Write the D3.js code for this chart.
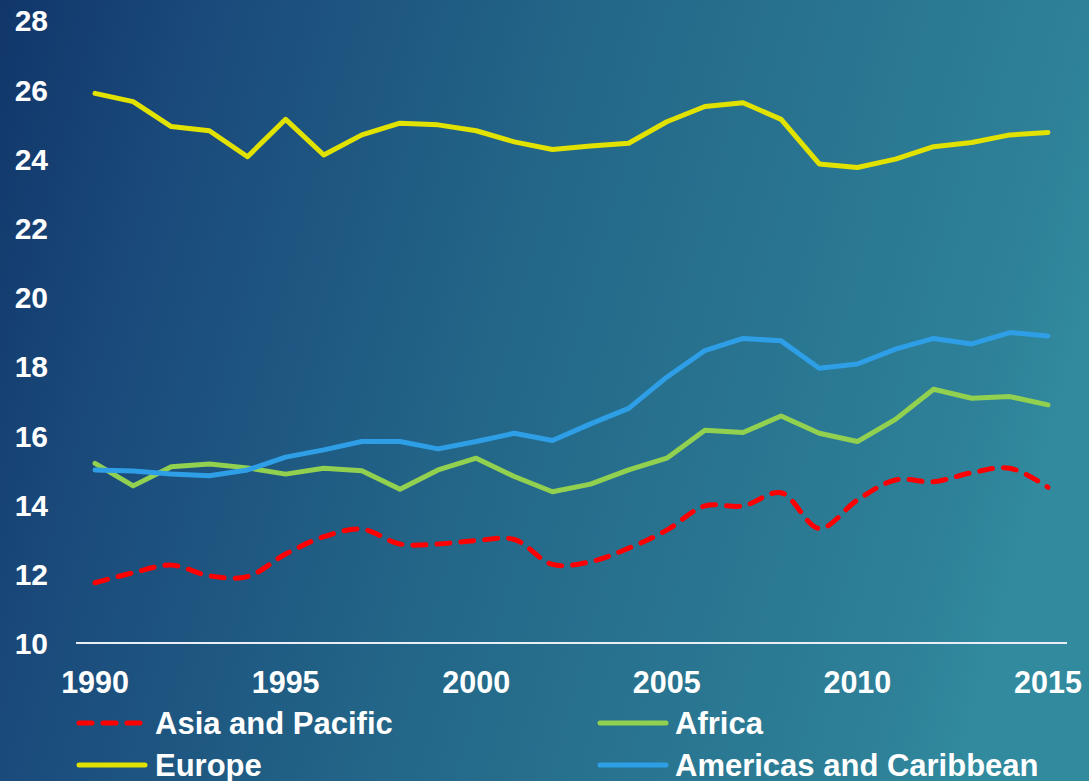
<!DOCTYPE html>
<html>
<head>
<meta charset="utf-8">
<script src="https://cdn.jsdelivr.net/npm/d3@7"></script>
<style>
  html, body { margin: 0; padding: 0; background: #1b4c7c; }
  svg { display: block; }
  text { font-family: "Liberation Sans", Arial, sans-serif; font-weight: bold; fill: #ffffff; }
</style>
</head>
<body>
<svg id="chart" width="1089" height="781"></svg>
<script>
// Years on the horizontal axis
const years = d3.range(1990, 2016).map(String);
const yearTicks = ["1990", "1995", "2000", "2005", "2010", "2015"];
const valueTicks = [10, 12, 14, 16, 18, 20, 22, 24, 26, 28];

// Series values, one per year 1990–2015
const asiaPacific = [11.74, 12.03, 12.25, 11.94, 11.92, 12.57, 13.07, 13.29, 12.86, 12.86,
                     12.96, 12.99, 12.27, 12.35, 12.74, 13.26, 13.96, 13.96, 14.34, 13.31,
                     14.13, 14.71, 14.66, 14.92, 15.05, 14.50];
const africa = [15.19, 14.54, 15.09, 15.17, 15.06, 14.88, 15.05, 14.98, 14.44, 15.00,
                15.34, 14.81, 14.37, 14.59, 15.00, 15.34, 16.15, 16.08, 16.56, 16.06,
                15.82, 16.46, 17.33, 17.07, 17.12, 16.88];
const europe = [25.88, 25.64, 24.92, 24.80, 24.05, 25.13, 24.10, 24.68, 25.02, 24.97,
                24.80, 24.48, 24.26, 24.36, 24.44, 25.06, 25.50, 25.61, 25.13, 23.84,
                23.74, 23.98, 24.34, 24.46, 24.68, 24.75];
const americas = [15.00, 14.97, 14.88, 14.83, 15.00, 15.37, 15.58, 15.82, 15.82, 15.61,
                  15.82, 16.06, 15.85, 16.33, 16.78, 17.68, 18.45, 18.80, 18.73, 17.94,
                  18.06, 18.49, 18.80, 18.64, 18.97, 18.87];

const seriesNames = ["Asia and Pacific", "Africa", "Europe", "Americas and Caribbean"];
const seriesValues = [asiaPacific, africa, europe, americas];
const seriesColors = ["#ff0000", "#92d050", "#e2e200", "#2e9fe6"];

const svg = d3.select("#chart");
const W = 1089, H = 781;

// Background gradient: navy at the left fading to teal at the right
const defs = svg.append("defs");
const grad = defs.append("linearGradient")
  .attr("id", "bg")
  .attr("gradientUnits", "userSpaceOnUse")
  .attr("x1", 0).attr("y1", 0).attr("x2", W).attr("y2", 300);
[[0, "#11366a"], [0.18, "#1a4a7b"], [0.5, "#236688"], [0.93, "#2e8198"], [1, "#318a9e"]]
  .forEach(([o, c]) => grad.append("stop").attr("offset", o).attr("stop-color", c));
svg.append("rect").attr("width", W).attr("height", H).attr("fill", "url(#bg)");

const x = d3.scaleBand().domain(years).range([76, 1067]).padding(0);
const y = d3.scaleLinear().domain([10, 28]).range([643, 20]);
const cx = d => x(d) + x.bandwidth() / 2;

// Value axis labels
const yAxis = svg.append("g")
  .attr("transform", "translate(48,0)")
  .call(d3.axisLeft(y).tickValues(valueTicks).tickSize(0).tickPadding(0).tickFormat(d3.format("d")));
yAxis.select(".domain").remove();
yAxis.selectAll("text")
  .attr("x", 0).attr("dy", "0.36em")
  .style("font-size", "30px").style("font-family", "'Liberation Sans', Arial, sans-serif")
  .style("font-weight", "bold").attr("fill", "#ffffff");

// Baseline of the plot
svg.append("line")
  .attr("x1", x.range()[0]).attr("x2", x.range()[1])
  .attr("y1", y(10)).attr("y2", y(10))
  .attr("stroke", "#e8eef4").attr("stroke-width", 2);

// Year labels
const xAxis = svg.append("g")
  .attr("transform", `translate(0,${y(10)})`)
  .call(d3.axisBottom(x).tickValues(yearTicks).tickSize(0).tickPadding(0));
xAxis.select(".domain").remove();
xAxis.selectAll("text")
  .attr("y", 39).attr("dy", "0.36em")
  .style("font-size", "30.5px").style("font-family", "'Liberation Sans', Arial, sans-serif")
  .style("font-weight", "bold").attr("fill", "#ffffff");

// Series lines
const straight = d3.line().x((d, i) => cx(years[i])).y(d => y(d));
const smooth = d3.line().x((d, i) => cx(years[i])).y(d => y(d)).curve(d3.curveCatmullRom.alpha(0.5));

seriesValues.forEach((vals, k) => {
  const path = svg.append("path")
    .datum(vals)
    .attr("fill", "none")
    .attr("stroke", seriesColors[k])
    .attr("stroke-width", 5)
    .attr("stroke-linejoin", "round")
    .attr("stroke-linecap", "round")
    .attr("d", k === 0 ? smooth : straight);
  if (k === 0) path.attr("stroke-dasharray", "13,11");
});

// Legend, two columns by two rows
const legendPos = [
  { lx: 77, tx: 155, ly: 723 },
  { lx: 598, tx: 675, ly: 723 },
  { lx: 77, tx: 155, ly: 765 },
  { lx: 598, tx: 675, ly: 765 }
];
seriesNames.forEach((name, k) => {
  const p = legendPos[k];
  const item = svg.append("g");
  const ln = item.append("line")
    .attr("x1", p.lx + 2).attr("x2", p.lx + 68)
    .attr("y1", p.ly).attr("y2", p.ly)
    .attr("stroke", seriesColors[k]).attr("stroke-width", 5)
    .attr("stroke-linecap", "round");
  if (k === 0) ln.attr("stroke-dasharray", "13,11");
  item.append("text")
    .attr("x", p.tx).attr("y", p.ly).attr("dy", "0.36em")
    .style("font-size", "31px")
    .text(name);
});
</script>
</body>
</html>
